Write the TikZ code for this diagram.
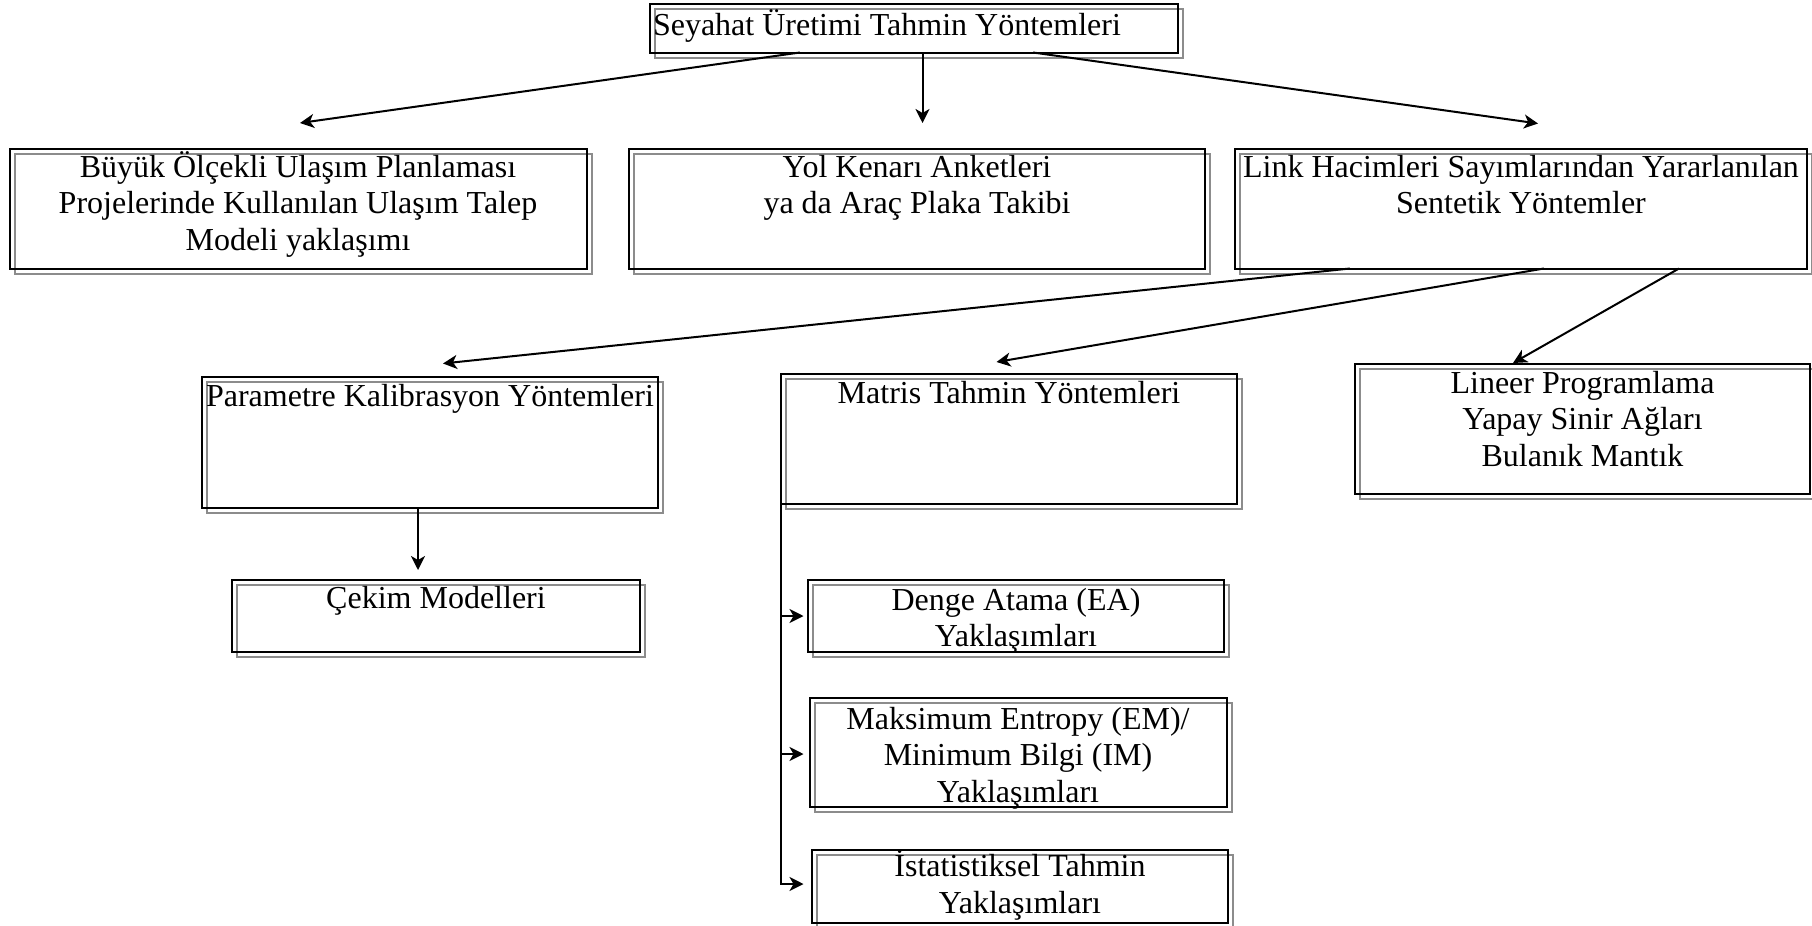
\documentclass[tikz,border=0pt]{standalone}
\usepackage{fontspec}
\setmainfont{Liberation Serif}
\usetikzlibrary{arrows.meta,backgrounds}
\begin{document}
\begin{tikzpicture}[x=1pt,y=-1pt,
  box/.style={draw=black, line width=2pt, inner sep=0pt, outer sep=0pt, anchor=north west},
  shadowbox/.style={draw=black!45, line width=2pt},
  txt/.style={inner sep=0pt, outer sep=0pt, align=center, anchor=base, font=\fontsize{32}{36.5}\selectfont},
  arr/.style={line width=2pt, -{Stealth[length=14pt,width=14pt,inset=4pt]}},
  link/.style={line width=2pt}
]
\useasboundingbox (0,0) rectangle (1812,926);

% boxes
\node[box, minimum width=528pt, minimum height=49pt] (top) at (650,3.5) {};
\node[box, minimum width=577.5pt, minimum height=120pt] (A) at (9.5,148.5) {};
\node[box, minimum width=576.5pt, minimum height=120pt] (B) at (628.5,148.5) {};
\node[box, minimum width=572.5pt, minimum height=120pt] (C) at (1234.5,148.5) {};
\node[box, minimum width=456pt, minimum height=130.5pt] (D) at (202,377) {};
\node[box, minimum width=408pt, minimum height=72pt] (E) at (232,580) {};
\node[box, minimum width=456.5pt, minimum height=130pt] (F) at (780.5,374) {};
\node[box, minimum width=416.5pt, minimum height=72pt] (G) at (807.5,580) {};
\node[box, minimum width=416.5pt, minimum height=109pt] (H) at (810,697.5) {};
\node[box, minimum width=416.5pt, minimum height=73.5pt] (I) at (811.5,849.5) {};
\node[box, minimum width=455pt, minimum height=130pt] (J) at (1355,364) {};

% shadows
\begin{scope}[on background layer]
\foreach \n in {top,A,B,C,D,E,F,G,H,I,J}
  \draw[shadowbox] ([shift={(5,5)}]\n.north west) rectangle ([shift={(5,5)}]\n.south east);
\end{scope}

% texts (anchor = baseline of the last line)
\node[txt, anchor=base west] (topT) at (653,35) {Seyahat Üretimi Tahmin Yöntemleri};
\node[txt] (AT) at (298,250) {Büyük Ölçekli Ulaşım Planlaması\\Projelerinde Kullanılan Ulaşım Talep\\Modeli yaklaşımı};
\node[txt] (BT) at (917,213.5) {Yol Kenarı Anketleri\\ya da Araç Plaka Takibi};
\node[txt] (CT) at (1521,213.5) {Link Hacimleri Sayımlarından Yararlanılan\\Sentetik Yöntemler};
\node[txt] (DT) at (430,406.5) {Parametre Kalibrasyon Yöntemleri};
\node[txt] (ET) at (436,608) {Çekim Modelleri};
\node[txt] (FT) at (1009,403) {Matris Tahmin Yöntemleri};
\node[txt] (GT) at (1016,646.5) {Denge Atama (EA)\\Yaklaşımları};
\node[txt] (HT) at (1018,802) {Maksimum Entropy (EM)/\\Minimum Bilgi (IM)\\Yaklaşımları};
\node[txt] (IT) at (1020,913) {İstatistiksel Tahmin\\Yaklaşımları};
\node[txt] (JT) at (1582.5,466) {Lineer Programlama\\Yapay Sinir Ağları\\Bulanık Mantık};

% arrow tips
\coordinate (tipA) at (300,123);
\coordinate (tipB) at (922.5,123);
\coordinate (tipC) at (1538,123.5);
\coordinate (tipD) at (443,363.5);
\coordinate (tipF) at (996.5,362);
\coordinate (tipJ) at (1513,363);
\coordinate (tipE) at (418,570);
\coordinate (tipG) at (803.5,616);
\coordinate (tipH) at (803.5,754);
\coordinate (tipI) at (803.5,884);

% connectors
\draw[arr] ([xshift=-114pt]top.south) -- (tipA);
\draw[arr] ([xshift=8.5pt]top.south) -- (tipB);
\draw[arr] ([xshift=119pt]top.south) -- (tipC);
\draw[arr] ([xshift=-170.75pt]C.south) -- (tipD);
\draw[arr] ([xshift=23.25pt]C.south) -- (tipF);
\draw[arr] ([xshift=158.25pt]C.south) -- (tipJ);
\draw[arr] ([xshift=-12pt]D.south) -- (tipE);
\draw[arr] (F.south west) |- (tipI);
\draw[arr] (F.south west |- tipG) -- (tipG);
\draw[arr] (F.south west |- tipH) -- (tipH);
\end{tikzpicture}
\end{document}
